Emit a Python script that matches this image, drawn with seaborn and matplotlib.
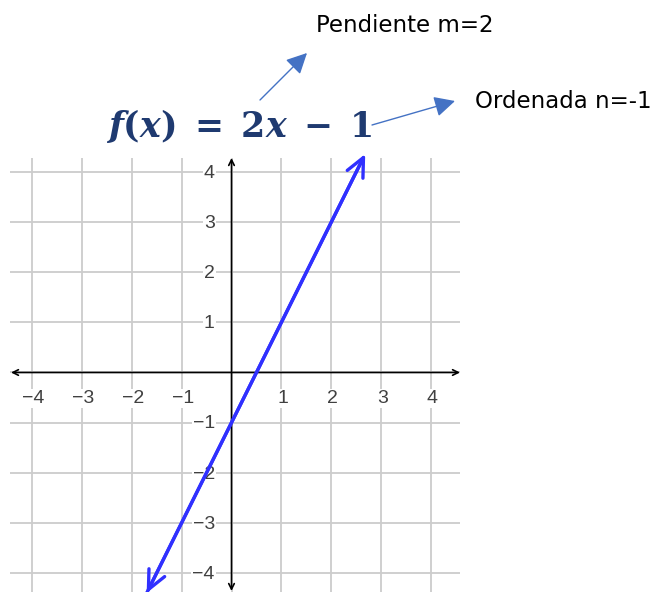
import matplotlib
matplotlib.use("Agg")
import matplotlib.pyplot as plt
import seaborn as sns

# Data
x_ticks = [-4, -3, -2, -1, 1, 2, 3, 4]
y_ticks = [-4, -3, -2, -1, 1, 2, 3, 4]
grid_x = [-4, -3, -2, -1, 0, 1, 2, 3, 4]
grid_y = [-4, -3, -2, -1, 0, 1, 2, 3, 4]
line_x = [-1.7, 2.68]
line_y = [-4.4, 4.36]
title_txt = r"$f(x)\;=\;2x\;-\;1$"
note_slope = "Pendiente m=2"
note_icpt = "Ordenada n=-1"

sns.set_style("white")
plt.rcParams["mathtext.fontset"] = "custom"
plt.rcParams["mathtext.it"] = "DejaVu Serif:italic:bold"
plt.rcParams["mathtext.rm"] = "DejaVu Serif:bold"
plt.rcParams["mathtext.bf"] = "DejaVu Serif:bold"

W, H = 663, 592
fig = plt.figure(figsize=(W / 100, H / 100), dpi=100)
ax = fig.add_axes([10 / W, 0, 450 / W, (H - 158) / H])
ax.set_xlim(-4.44, 4.58)
ax.set_ylim(-4.38, 4.28)
ax.axis("off")

# grid
for gx in grid_x:
    ax.axvline(gx, color="#cccccc", lw=1.3, zorder=0)
for gy in grid_y:
    ax.axhline(gy, color="#cccccc", lw=1.3, zorder=0)

# axes with arrows
ax.annotate("", xy=(4.58, 0), xytext=(-4.42, 0),
            arrowprops=dict(arrowstyle="<->", color="black", lw=1.2,
                            shrinkA=0, shrinkB=0, mutation_scale=10),
            annotation_clip=False, zorder=2)
ax.annotate("", xy=(0, 4.28), xytext=(0, -4.36),
            arrowprops=dict(arrowstyle="<->", color="black", lw=1.2,
                            shrinkA=0, shrinkB=0, mutation_scale=10),
            annotation_clip=False, zorder=2)

# tick labels
for t in x_ticks:
    ax.annotate(str(t).replace("-", "\u2212"), xy=(t, 0), xytext=(1, -19),
                textcoords="offset points", ha="center", va="center",
                fontsize=14, color="#404040", family="Liberation Sans",
                bbox=dict(boxstyle="square,pad=0.05", fc="white", ec="none"),
                zorder=3)
for t in y_ticks:
    ax.annotate(str(t).replace("-", "\u2212"), xy=(0, t), xytext=(-12, -1),
                textcoords="offset points", ha="right", va="center",
                fontsize=14, color="#404040", family="Liberation Sans",
                bbox=dict(boxstyle="square,pad=0.05", fc="white", ec="none"),
                zorder=3)

# the function line
sns.lineplot(x=line_x, y=line_y, ax=ax, color="#3030ff", lw=2.4, zorder=4)
ax.annotate("", xy=(line_x[1], line_y[1]), xytext=(line_x[0], line_y[0]),
            arrowprops=dict(arrowstyle="<->,head_length=0.75,head_width=0.35",
                            color="#3030ff", lw=2.4, shrinkA=0, shrinkB=0,
                            mutation_scale=18),
            annotation_clip=False, zorder=4)

# title and notes
fig.text(239, H - 137, title_txt, transform=None, ha="center", va="baseline",
         fontsize=25, color="#1f3a70")
fig.text(316, H - 25, note_slope, transform=None, ha="left", va="center",
         fontsize=16.5, color="black", family="DejaVu Sans")
fig.text(475, H - 101, note_icpt, transform=None, ha="left", va="center",
         fontsize=16.5, color="black", family="DejaVu Sans")

ap = dict(arrowstyle="-|>,head_length=0.9,head_width=0.45", color="#4472c4",
          lw=1, shrinkA=0, shrinkB=0, mutation_scale=14)
ax.annotate("", xy=(307, H - 53), xytext=(260, H - 100),
            xycoords="figure pixels", textcoords="figure pixels",
            arrowprops=ap, annotation_clip=False)
ax.annotate("", xy=(455, H - 101), xytext=(372, H - 125),
            xycoords="figure pixels", textcoords="figure pixels",
            arrowprops=ap, annotation_clip=False)

fig.savefig("out.png", dpi=100)
